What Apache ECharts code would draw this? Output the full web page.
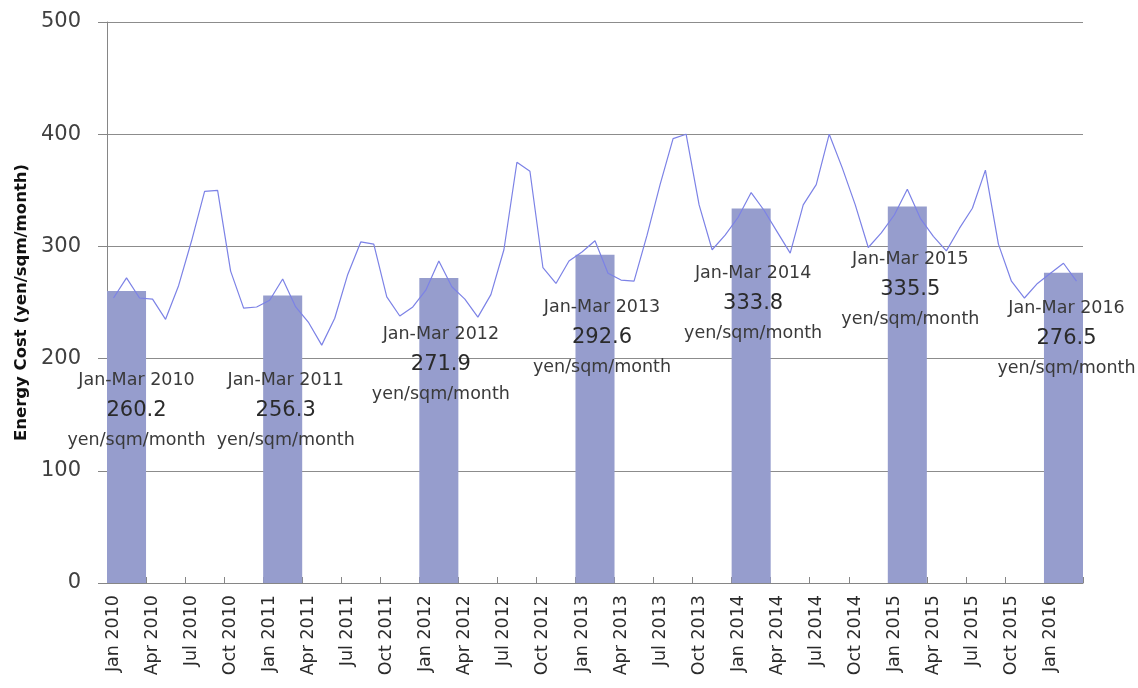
<!DOCTYPE html>
<html>
<head>
<meta charset="utf-8">
<script src="https://cdn.jsdelivr.net/npm/echarts@6/dist/echarts.min.js"></script>
<style>
html,body{margin:0;padding:0;background:#fff;}
#chart{width:1138px;height:688px;}
</style>
</head>
<body>
<div id="chart"></div>
<script>
// ---- data ----
var monthNames = ['Jan','Feb','Mar','Apr','May','Jun','Jul','Aug','Sep','Oct','Nov','Dec'];
var years = [2010, 2011, 2012, 2013, 2014, 2015, 2016];
var monthsInLastYear = 3;

var monthly2010 = [254, 272, 254, 253, 235, 265, 305, 349, 350, 278, 245, 246];
var monthly2011 = [252, 271, 246, 232, 212, 236, 275, 304, 302, 255, 238, 246];
var monthly2012 = [261, 287, 264, 253, 237, 257, 297, 375, 367, 281, 267, 287];
var monthly2013 = [295, 305, 276, 270, 269, 310, 355, 396, 400, 337, 297, 310];
var monthly2014 = [326, 348, 332, 313, 294, 337, 355, 400, 370, 337, 299, 312];
var monthly2015 = [328, 351, 325, 309, 296, 316, 334, 368, 302, 269, 254, 267];
var monthly2016 = [276, 285, 269];

var janMarAverages = [260.2, 256.3, 271.9, 292.6, 333.8, 335.5, 276.5];

var yTicks = [0, 100, 200, 300, 400, 500];

// ---- derived ----
var categories = [];
years.forEach(function (y, yi) {
  var n = (yi === years.length - 1) ? monthsInLastYear : 12;
  for (var m = 0; m < n; m++) categories.push(monthNames[m] + ' ' + y);
});
var lineValues = [].concat(monthly2010, monthly2011, monthly2012, monthly2013, monthly2014, monthly2015, monthly2016);

// label placement tweaks (style only): [dx, dy] from bar top-center
var labelShift = [[10, 74], [3, 70], [2, 42], [7, 38], [2, 50], [3, 38], [3, 21]];

var barData = categories.map(function () { return '-'; });
var labelData = categories.map(function () { return '-'; });
years.forEach(function (y, yi) {
  var idx = yi * 12 + 1; // centre of Jan–Mar block
  barData[idx] = janMarAverages[yi];
  labelData[idx] = {
    value: janMarAverages[yi],
    label: {
      show: true,
      position: 'insideTop',
      distance: 0,
      offset: labelShift[yi],
      formatter: '{a|Jan-Mar ' + y + '}\n{b|' + janMarAverages[yi].toFixed(1) + '}\n{a|yen/sqm/month}'
    }
  };
});

var FONT = 'DejaVu Sans';
var chart = echarts.init(document.getElementById('chart'), null, {renderer: 'canvas'});
chart.setOption({
  animation: false,
  backgroundColor: '#ffffff',
  grid: {left: 107, right: 55, top: 22, bottom: 105, containLabel: false},
  xAxis: {
    type: 'category',
    data: categories,
    boundaryGap: true,
    axisLine: {show: true, lineStyle: {color: '#868686', width: 1}},
    axisTick: {show: true, inside: true, length: 6, interval: 2, lineStyle: {color: '#868686'}},
    axisLabel: {
      interval: 2, rotate: 90, margin: 12,
      color: '#2b2b2b', fontFamily: FONT, fontSize: 17.5
    },
    splitLine: {show: false}
  },
  yAxis: {
    type: 'value',
    min: yTicks[0], max: yTicks[yTicks.length - 1], interval: 100,
    name: 'Energy Cost (yen/sqm/month)',
    nameLocation: 'middle',
    nameRotate: 90,
    nameGap: 77,
    nameTextStyle: {color: '#111', fontFamily: FONT, fontWeight: 'bold', fontSize: 16.5},
    axisLine: {show: true, lineStyle: {color: '#868686', width: 1}},
    axisTick: {show: true, inside: false, length: 9, lineStyle: {color: '#868686'}},
    axisLabel: {color: '#404040', fontFamily: FONT, fontSize: 21, margin: 26},
    splitLine: {show: true, lineStyle: {color: '#8c8c8c', width: 1}}
  },
  series: [
    {
      type: 'bar',
      data: barData,
      barWidth: '300%',
      itemStyle: {color: '#969dcd'},
      z: 2,
      silent: true
    },
    {
      type: 'line',
      data: lineValues,
      symbol: 'none',
      smooth: false,
      lineStyle: {color: '#7c82e6', width: 1.2},
      z: 3,
      silent: true
    },
    {
      type: 'bar',
      data: labelData,
      barWidth: '300%',
      barGap: '-100%',
      itemStyle: {color: 'rgba(0,0,0,0)'},
      z: 4,
      silent: true,
      label: {
        show: false,
        align: 'center',
        verticalAlign: 'top',
        rich: {
          a: {fontFamily: FONT, fontSize: 17.5, color: '#3a3a3a', lineHeight: 30, align: 'center'},
          b: {fontFamily: FONT, fontSize: 21, color: '#2a2a2a', lineHeight: 30, align: 'center'}
        }
      }
    }
  ]
});
</script>
</body>
</html>
